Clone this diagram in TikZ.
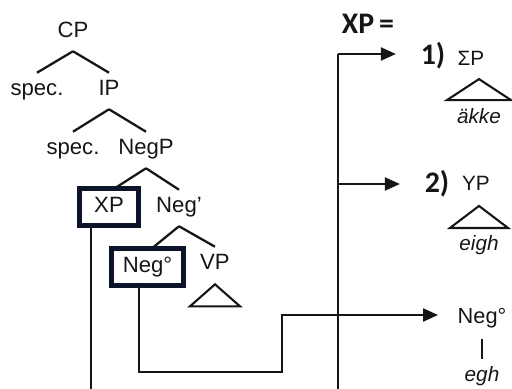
\documentclass[tikz,border=0pt]{standalone}
\usepackage{fontspec}
\setmainfont{Liberation Sans}
\newfontfamily\calfont{Carlito}
\usetikzlibrary{arrows.meta, backgrounds}
\definecolor{boxnavy}{RGB}{12, 20, 42}
\definecolor{boxblue}{RGB}{45, 85, 150}
\definecolor{inkgray}{RGB}{22, 22, 22}
\tikzset{
	cat/.style={inner sep=0pt, text height=9pt, text depth=0pt, text=inkgray, font=\fontsize{12.6}{14}\selectfont},
	hilite/.style={cat, draw=boxblue, double=boxnavy, double distance=2.4pt, line width=0.5pt, fill=white, minimum height=0.74cm, text depth=3pt},
	branch/.style={draw=inkgray, line width=1.3pt},
	roof/.style={draw=inkgray, line width=1.2pt},
	link/.style={draw=inkgray, line width=0.9pt},
	pointer/.style={link, -{Triangle[length=8.5pt, width=7.5pt]}},
	gloss/.style={inner sep=0pt, text height=8.5pt, text depth=2.5pt, text=inkgray, font=\fontsize{11.8}{14}\selectfont\itshape}
}

\begin{document}
\begin{tikzpicture}[
    % one unit is one pixel of the reference, y runs downwards
    x=0.02cm, y=-0.02cm,
    % labels of the right column
    pick/.style={inner sep=0pt, text=inkgray, font=\fontsize{11.8}{14}\selectfont},
    num/.style={inner sep=0pt, text=inkgray, font=\calfont\bfseries\fontsize{17}{20}\selectfont}
]
\useasboundingbox (0,0) rectangle (512,389);
\clip (0,0) rectangle (512,389);

% --- LEFT SIDE: TREE ---
\node[cat] (cp) at (73,30) {CP};
\node[cat] (specA) at (37,88) {spec.};
\node[cat] (ip) at (109,88) {IP};
\node[cat] (specB) at (73,147) {spec.};
\node[cat] (negp) at (146,147) {NegP};
\node[hilite, minimum width=1.18cm] (xp) at (109,207) {XP};
\node[cat] (negbar) at (179,205) {Neg'};
\node[hilite, minimum width=1.44cm] (neghead) at (147.5,267) {Neg°};
\node[cat] (vp) at (215,262) {VP};

% branches go behind the boxes
\begin{scope}[on background layer]
    \draw[branch] ([yshift=-7.4pt]cp.south) -- ([yshift=4pt]specA.north);
    \draw[branch] ([yshift=-7.4pt]cp.south) -- ([yshift=4pt]ip.north);
    \draw[branch] ([yshift=-7.4pt]ip.south) -- ([yshift=4pt]specB.north);
    \draw[branch] ([yshift=-7.4pt]ip.south) -- ([yshift=4pt]negp.north);
    \draw[branch] ([yshift=-7.4pt]negp.south) -- ([yshift=0.3cm]xp.center);
    \draw[branch] ([yshift=-7.4pt]negp.south) -- ([yshift=4pt]negbar.north);
    \draw[branch] ([yshift=-7.4pt]negbar.south) -- ([yshift=0.3cm]neghead.center);
    \draw[branch] ([yshift=-7.4pt]negbar.south) -- ([yshift=4pt]vp.north);
\end{scope}

% roof under VP
\draw[roof] ([yshift=-8pt]vp.south) -- ++(-25,22) -- ++(50,0) -- cycle;

% --- RIGHT SIDE: CHOICES FOR XP ---
\node[num] (xpeq) at (368,24) {XP\,=};
\node[num] (one) at (433,56) {1)};
\node[pick] (sigma) at (471,58) {ΣP};
\node[gloss] (akke) at (479,118) {äkke};
\node[num] (two) at (437,184) {2)};
\node[pick] (yp) at (476,183) {YP};
\node[gloss] (eigh) at (479,245) {eigh};
\node[cat, font=\fontsize{12.4}{14}\selectfont, text height=8.8pt] (neg) at (482,315.5) {Neg°};
\node[gloss] (egh) at (482,376.5) {egh};

\draw[roof] ([yshift=4.5pt]akke.north) ++(-32,0) -- ++(64,0) -- ++(-32,-21) -- cycle;
\draw[roof] ([yshift=4pt]eigh.north) ++(-29,0) -- ++(58,0) -- ++(-29,-22) -- cycle;
\draw[branch] ([yshift=-8.5pt]neg.south) -- ([yshift=4pt]egh.north);

% --- CONNECTORS ---
\coordinate (forkone) at (338,54);
\coordinate (forktwo) at (338,184);
\coordinate (spinefoot) at (338,395);
\coordinate (xpfoot) at (91,395);
\coordinate (negdrop) at (139,372);
\coordinate (negrise) at (282,315);

\draw[link] (forkone) -- (spinefoot);
\draw[pointer, shorten >=14pt] (forkone) -- (forkone -| one.west);
\draw[pointer, shorten >=14pt] (forktwo) -- (forktwo -| two.west);

\draw[link] (xpfoot |- xp.south) -- (xpfoot);
\draw[pointer, shorten >=11pt] (negdrop |- neghead.south) -- (negdrop) -| (negrise) -- (negrise -| neg.west);

\end{tikzpicture}
\end{document}
